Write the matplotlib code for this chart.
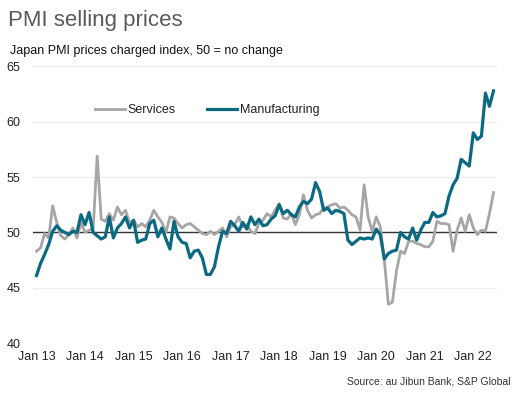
import matplotlib
matplotlib.use("Agg")
import matplotlib.pyplot as plt
import numpy as np

plt.rcParams['font.family'] = ['Liberation Sans', 'DejaVu Sans']

# Japan PMI prices charged, monthly from Jan 2013
services = [48.3, 48.6, 49.9, 49.5, 52.4, 50.9, 49.7, 49.4, 49.8, 50.4, 49.5, 50.9,
            50.0, 50.2, 50.3, 56.9, 51.2, 51.0, 51.7, 51.1, 52.3, 51.6, 52.0, 50.9,
            51.1, 50.5, 50.8, 50.5, 51.1, 52.0, 51.4, 50.9, 50.0, 51.4, 51.3, 50.8,
            50.4, 50.7, 50.8, 50.5, 50.2, 49.9, 49.8, 50.1, 49.8, 50.1, 50.4, 49.6,
            50.5, 50.7, 51.4, 50.5, 50.7, 50.1, 49.9, 50.8, 51.1, 51.7, 51.4, 52.0,
            52.6, 51.3, 51.2, 51.7, 50.7, 51.6, 53.4, 52.0, 51.3, 51.6, 51.7, 52.2,
            52.3, 52.5, 52.6, 52.2, 52.3, 52.0, 51.6, 51.4, 50.2, 54.3, 51.4, 50.1,
            51.4, 50.5, 47.5, 43.5, 43.7, 46.5, 48.3, 48.1, 49.2, 49.2, 49.0, 48.9,
            48.7, 48.7, 49.2, 51.0, 50.8, 50.8, 50.7, 48.3, 50.2, 51.3, 50.1, 51.6,
            50.4, 49.8, 50.2, 50.1, 51.7, 53.6]

manufacturing = [46.1, 47.2, 48.0, 48.9, 50.1, 50.6, 50.2, 50.0, 49.8, 50.1, 50.0, 51.6,
                 50.7, 51.8, 50.0, 49.7, 49.4, 49.6, 51.4, 49.5, 50.4, 50.8, 51.4, 50.4,
                 51.1, 49.1, 49.3, 49.4, 50.8, 51.1, 49.6, 50.4, 49.4, 48.5, 51.0, 49.6,
                 49.1, 49.0, 47.7, 48.3, 48.4, 47.7, 46.2, 46.2, 46.9, 48.7, 50.1, 49.9,
                 51.0, 50.6, 50.1, 50.9, 50.3, 51.4, 50.7, 51.2, 50.6, 50.7, 51.2, 51.5,
                 52.5, 51.7, 52.0, 51.6, 51.4, 52.3, 52.8, 52.6, 53.0, 54.5, 53.7, 52.0,
                 52.2, 51.7, 52.0, 51.9, 51.7, 49.3, 48.9, 49.2, 49.5, 49.4, 49.5, 49.4,
                 50.3, 49.8, 47.6, 48.1, 48.3, 48.4, 50.0, 49.6, 49.4, 50.4, 49.3, 50.2,
                 50.9, 50.9, 51.8, 51.4, 51.5, 51.7, 53.3, 54.3, 54.9, 56.6, 56.3, 56.0,
                 59.0, 58.4, 58.7, 62.6, 61.4, 62.8]

year_labels = ['Jan 13', 'Jan 14', 'Jan 15', 'Jan 16', 'Jan 17',
               'Jan 18', 'Jan 19', 'Jan 20', 'Jan 21', 'Jan 22']
y_ticks = [40, 45, 50, 55, 60, 65]

months = np.arange(len(services))

fig = plt.figure(figsize=(5.18, 3.97), dpi=100)
ax = fig.add_axes([0.0637, 0.136, 0.8953, 0.6965])

for yv in y_ticks:
    ax.axhline(yv, color='#ececec', lw=0.8, zorder=0)
ax.axhline(50, color='#333333', lw=1.0, zorder=1)

ax.plot(months, services, color='#a6a6a6', lw=2.0, label='Services', zorder=2)
ax.plot(months, manufacturing, color='#0b6a82', lw=2.3, label='Manufacturing', zorder=3)

ax.set_xlim(-0.87, 113.8)
ax.set_ylim(40, 65)
ax.set_yticks(y_ticks)
ax.set_xticks(np.arange(0, len(services), 12))
ax.set_xticklabels(year_labels)
ax.tick_params(length=0, labelsize=9, colors='#222222')
ax.tick_params(axis='y', pad=9)
ax.tick_params(axis='x', pad=6)
for s in ax.spines.values():
    s.set_visible(False)

fig.legend(loc='center', bbox_to_anchor=(0.40, 0.723), ncol=2, frameon=False,
           fontsize=9, handlelength=2.4, columnspacing=2.5, handletextpad=0.2,
           labelcolor='#222222')

fig.text(0.015, 0.975, 'PMI selling prices', fontsize=16, color='#595959',
         ha='left', va='top')
fig.text(0.02, 0.872, 'Japan PMI prices charged index, 50 = no change', fontsize=9,
         color='#111111', ha='left', va='center')
fig.text(0.985, 0.04, 'Source: au Jibun Bank, S&P Global', fontsize=7.5,
         color='#333333', ha='right', va='center')

fig.savefig('out.png', dpi=100)
